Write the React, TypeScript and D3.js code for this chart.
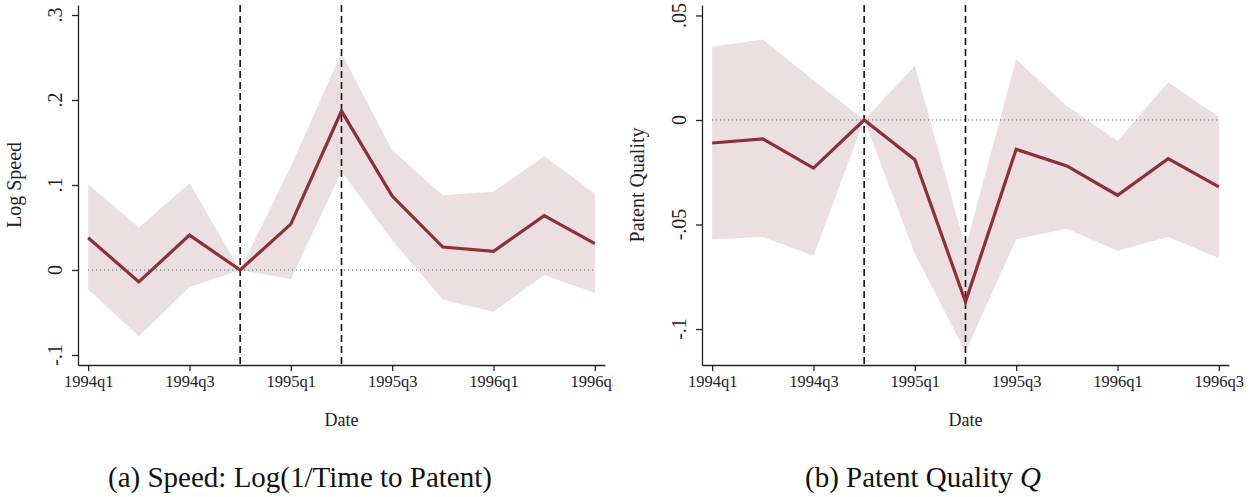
import React, { useEffect, useRef } from "react";
import * as d3 from "d3";

const quarters = [
  "1994q1", "1994q2", "1994q3", "1994q4",
  "1995q1", "1995q2", "1995q3", "1995q4",
  "1996q1", "1996q2", "1996q3",
];
const tickQuarters = ["1994q1", "1994q3", "1995q1", "1995q3", "1996q1", "1996q3"];
const eventQuarters = ["1994q4", "1995q2"];

// panel (a): log speed
const speedEst = [0.038, -0.014, 0.041, 0, 0.054, 0.187, 0.087, 0.027, 0.022, 0.064, 0.031];
const speedLo = [-0.023, -0.078, -0.02, 0, -0.011, 0.116, 0.035, -0.035, -0.049, -0.006, -0.027];
const speedHi = [0.101, 0.05, 0.102, 0, 0.122, 0.255, 0.141, 0.088, 0.092, 0.134, 0.09];
const speedTicks = [-0.1, 0, 0.1, 0.2, 0.3];
const speedTickLabels = ["-.1", "0", ".1", ".2", ".3"];

// panel (b): patent quality
const qualEst = [-0.011, -0.009, -0.023, 0, -0.019, -0.087, -0.014, -0.022, -0.036, -0.0185, -0.032];
const qualLo = [-0.057, -0.056, -0.065, 0, -0.064, -0.111, -0.057, -0.052, -0.0625, -0.056, -0.066];
const qualHi = [0.035, 0.0385, 0.019, 0, 0.026, -0.061, 0.029, 0.0067, -0.01, 0.018, 0.0016];
const qualTicks = [-0.1, -0.05, 0, 0.05];
const qualTickLabels = ["-.1", "-.05", "0", ".05"];

const LINE = "#8c2f3b";
const BAND = "#ecdfe1";
const FONT = "'Liberation Serif', 'Times New Roman', serif";

interface PanelSpec {
  est: number[];
  lo: number[];
  hi: number[];
  ticks: number[];
  tickLabels: string[];
  yDomain: [number, number];
  left: number; // y axis position
  right: number; // end of x axis
  yLabel: string;
  yLabelX: number;
  tickLabelX: number;
  clipRight: number;
}

const drawPanel = (
  svg: d3.Selection<SVGSVGElement, unknown, null, undefined>,
  p: PanelSpec,
  id: string
) => {
  const top = 5;
  const bottom = 365;

  svg
    .append("clipPath")
    .attr("id", id)
    .append("rect")
    .attr("x", 0)
    .attr("y", 0)
    .attr("width", p.clipRight)
    .attr("height", 497);

  const g = svg.append("g").attr("clip-path", `url(#${id})`);

  const n = quarters.length;
  const pad = 0.2;
  const xScale = d3
    .scaleLinear()
    .domain([-pad, n - 1 + pad])
    .range([p.left, p.right]);
  const yScale = d3.scaleLinear().domain(p.yDomain).range([bottom, top]);

  const idx = d3.range(n);

  const area = d3
    .area<number>()
    .x((i) => xScale(i))
    .y0((i) => yScale(p.lo[i]))
    .y1((i) => yScale(p.hi[i]));
  g.append("path").datum(idx).attr("fill", BAND).attr("d", area);

  // zero reference line
  g.append("line")
    .attr("x1", xScale(0))
    .attr("x2", xScale(n - 1))
    .attr("y1", yScale(0))
    .attr("y2", yScale(0))
    .attr("stroke", "#555")
    .attr("stroke-width", 1)
    .attr("stroke-dasharray", "1,3");

  // event lines
  eventQuarters.forEach((q) => {
    const x = xScale(quarters.indexOf(q));
    g.append("line")
      .attr("x1", x)
      .attr("x2", x)
      .attr("y1", top)
      .attr("y2", bottom)
      .attr("stroke", "#111")
      .attr("stroke-width", 1.6)
      .attr("stroke-dasharray", "7,4");
  });

  const line = d3
    .line<number>()
    .x((i) => xScale(i))
    .y((i) => yScale(p.est[i]));
  g.append("path")
    .datum(idx)
    .attr("fill", "none")
    .attr("stroke", LINE)
    .attr("stroke-width", 3.2)
    .attr("stroke-linejoin", "miter")
    .attr("d", line);

  // x axis
  const xAxis = d3
    .axisBottom(xScale)
    .tickValues(tickQuarters.map((q) => quarters.indexOf(q)))
    .tickFormat((d) => quarters[d as number])
    .tickSizeInner(6)
    .tickSizeOuter(0)
    .tickPadding(4);
  const xg = g
    .append("g")
    .attr("transform", `translate(0, ${bottom})`)
    .call(xAxis);
  xg.selectAll("path, line").attr("stroke", "#222").attr("stroke-width", 1.3);
  xg.selectAll("text")
    .attr("font-family", FONT)
    .attr("font-size", 16.5)
    .attr("fill", "#222");

  // y axis
  const yAxis = d3
    .axisLeft(yScale)
    .tickValues(p.ticks)
    .tickFormat((_, i) => p.tickLabels[i])
    .tickSizeInner(6)
    .tickSizeOuter(0);
  const yg = g
    .append("g")
    .attr("transform", `translate(${p.left}, 0)`)
    .call(yAxis);
  yg.selectAll("path, line").attr("stroke", "#222").attr("stroke-width", 1.3);
  yg.selectAll("text").remove();
  p.ticks.forEach((t, i) => {
    g.append("text")
      .attr("transform", `translate(${p.tickLabelX}, ${yScale(t)}) rotate(-90)`)
      .attr("text-anchor", "middle")
      .attr("font-family", FONT)
      .attr("font-size", 20)
      .attr("fill", "#222")
      .text(p.tickLabels[i]);
  });

  g.append("text")
    .attr("transform", `translate(${p.yLabelX}, ${(top + bottom) / 2}) rotate(-90)`)
    .attr("text-anchor", "middle")
    .attr("font-family", FONT)
    .attr("font-size", 20)
    .attr("fill", "#222")
    .text(p.yLabel);

  g.append("text")
    .attr("x", (p.left + p.right) / 2)
    .attr("y", 426)
    .attr("text-anchor", "middle")
    .attr("font-family", FONT)
    .attr("font-size", 18)
    .attr("fill", "#222")
    .text("Date");
};

const App: React.FC = () => {
  const svgRef = useRef<SVGSVGElement>(null);

  useEffect(() => {
    if (!svgRef.current) return;
    const svg = d3.select(svgRef.current);
    svg.selectAll("*").remove();

    drawPanel(
      svg,
      {
        est: speedEst,
        lo: speedLo,
        hi: speedHi,
        ticks: speedTicks,
        tickLabels: speedTickLabels,
        yDomain: [-0.1118, 0.3118],
        left: 78,
        right: 605,
        yLabel: "Log Speed",
        yLabelX: 21,
        tickLabelX: 62,
        clipRight: 613,
      },
      "clipA"
    );

    drawPanel(
      svg,
      {
        est: qualEst,
        lo: qualLo,
        hi: qualHi,
        ticks: qualTicks,
        tickLabels: qualTickLabels,
        yDomain: [-0.1172, 0.055],
        left: 702,
        right: 1229,
        yLabel: "Patent Quality",
        yLabelX: 644,
        tickLabelX: 686,
        clipRight: 1254,
      },
      "clipB"
    );

    svg
      .append("text")
      .attr("x", 300)
      .attr("y", 487)
      .attr("text-anchor", "middle")
      .attr("font-family", FONT)
      .attr("font-size", 29)
      .attr("fill", "#111")
      .text("(a) Speed: Log(1/Time to Patent)");

    const cap = svg
      .append("text")
      .attr("x", 923)
      .attr("y", 487)
      .attr("text-anchor", "middle")
      .attr("font-family", FONT)
      .attr("font-size", 29)
      .attr("fill", "#111");
    cap.append("tspan").text("(b) Patent Quality ");
    cap.append("tspan").attr("font-style", "italic").text("Q");
  }, []);

  return (
    <svg
      ref={svgRef}
      width={1254}
      height={497}
      style={{ position: "absolute", left: 0, top: 0, background: "#fff" }}
    />
  );
};

export default App;
